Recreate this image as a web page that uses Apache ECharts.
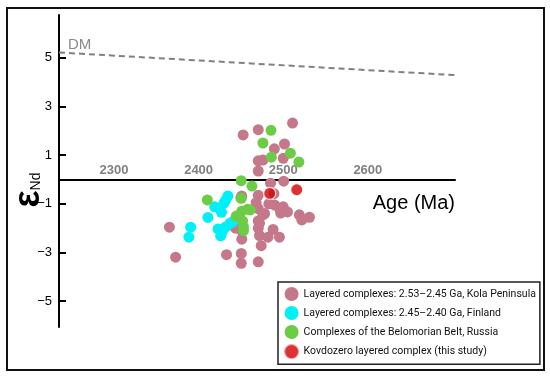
<!DOCTYPE html>
<html><head><meta charset="utf-8">
<script src="https://cdn.jsdelivr.net/npm/echarts@6/dist/echarts.min.js"></script>
<style>html,body{margin:0;padding:0;background:#fff}#c{width:550px;height:376px}</style>
</head><body><div id="c"></div>
<script>
// ---- data (Age in Ma, epsilon Nd) ----
const kola = [
  [2511,2.32],[2452.6,1.83],[2470.5,2.05],[2501.5,1.46],[2489.5,1.26],[2470.5,0.77],[2476,0.8],
  [2500,0.87],[2470.5,0.35],[2485,-0.15],[2500.5,-0.07],[2451,-0.68],[2470.5,-0.65],[2489,-0.58],
  [2470.5,-1.2],[2476,-1.45],[2490,-1.05],[2500,-1.12],[2497,-1.38],[2505,-1.33],[2519,-1.45],
  [2522,-1.66],[2531,-1.55],[2470.5,-1.7],[2470.5,-2.0],[2488,-2.05],[2472,-2.3],[2482,-2.37],
  [2495.5,-2.37],[2474,-2.72],[2470.5,-3.38],[2450.4,-3.44],[2450.4,-3.04],[2433,-3.09],
  [2451,-2.45],[2451,-2.1],[2365.5,-1.96],[2372.8,-3.19],[2450,-0.75],[2443.5,-2.0],
  [2468,-0.95],[2483,-1.0],[2478,-1.4],[2472,-1.8],[2496,-1.2]
];
const finland = [
  [2434.6,-0.68],[2432,-0.85],[2430,-0.97],[2419,-1.12],[2425,-1.2],[2427,-1.35],[2411,-1.56],
  [2390.6,-1.96],[2388.5,-2.37],[2437,-1.8],[2432,-1.95],[2423,-2.03],[2428,-2.15],[2426,-2.32],[2440,-1.75]
];
const belomorian = [
  [2485.5,2.02],[2476,1.50],[2486,0.92],[2508.5,1.08],[2518.5,0.72],[2450.4,-0.05],[2463,-0.27],
  [2410.3,-0.84],[2450.4,-0.77],[2458,-1.22],[2451,-1.3],[2444.5,-1.5],[2452,-1.7],[2453,-1.95],
  [2453,-2.1],[2461,-1.25]
];
const kovdozero = [[2484,-0.57],[2516,-0.42]];
const dmLine = [[2235,5.22],[2703,4.29]];
const xTickLabels = [2300,2400,2500,2600];
const yTickLabels = [-5,-3,-1,1,3,5];
const names = [
  'Layered complexes: 2.53–2.45 Ga, Kola Peninsula',
  'Layered complexes: 2.45–2.40 Ga, Finland',
  'Complexes of the Belomorian Belt, Russia',
  'Kovdozero layered complex (this study)'
];
const colors = ['#c4788a','#00f0f8','#6ccc46','#d20000'];

const chart = echarts.init(document.getElementById('c'), null, {renderer:'canvas'});
const FONT = 'Liberation Sans, Arial, sans-serif';
const LEGFONT = "Roboto, 'Liberation Sans', sans-serif";

const Y_MIN = -6.06, Y_MAX = 6.76, GRID_TOP = 15, GRID_BOTTOM = 49, H = 376;
const plotH = H - GRID_TOP - GRID_BOTTOM;
const zeroOffset = -(plotH * (0 - Y_MIN) / (Y_MAX - Y_MIN)); // move x axis up to y = 0

function dots(name, data, color, extra) {
  return Object.assign({
    type:'scatter', name, data, symbol:'circle', symbolSize:11,
    itemStyle:{color, opacity:1}, emphasis:{disabled:true}
  }, extra || {});
}

chart.setOption({
  animation:false,
  backgroundColor:'#fff',
  grid:{left:59, right:95, top:GRID_TOP, bottom:GRID_BOTTOM, containLabel:false, outerBoundsMode:'none'},
  xAxis:{
    type:'value', min:2235, max:2703, position:'bottom', offset:zeroOffset,
    axisLine:{onZero:false, lineStyle:{color:'#000', width:2}},
    axisTick:{show:false},
    splitLine:{show:false},
    axisLabel:{inside:true, customValues:xTickLabels, margin:3, formatter:v => String(v),
      color:'#808080', fontWeight:'bold', fontSize:13, fontFamily:FONT},
    name:'Age (Ma)', nameLocation:'end', nameGap:0, nameMoveOverlap:false,
    nameTextStyle:{align:'right', verticalAlign:'top', padding:[14,0,0,0],
      color:'#000', fontSize:20, fontFamily:FONT}
  },
  yAxis:{
    type:'value', min:Y_MIN, max:Y_MAX,
    axisLine:{onZero:false, lineStyle:{color:'#000', width:2}},
    axisTick:{inside:true, length:7, customValues:yTickLabels, lineStyle:{color:'#000', width:2}},
    splitLine:{show:false},
    axisLabel:{customValues:yTickLabels, margin:7, color:'#000', fontSize:13, fontFamily:FONT,
      formatter:v => v < 0 ? '\u2212' + Math.abs(v) : String(v)},
    name:'{e|ε}{s|Nd}', nameLocation:'middle', nameRotate:90, nameGap:12, nameMoveOverlap:false,
    nameTextStyle:{padding:[0,38,0,0], rich:{
      e:{fontSize:36, fontWeight:'bold', fontFamily:FONT, color:'#000'},
      s:{fontSize:14, fontFamily:FONT, color:'#000', verticalAlign:'bottom', padding:[0,0,4,0]}
    }}
  },
  legend:{
    orient:'vertical', left:278, top:282,
    data:names.map((n,i)=> i===3 ? {name:n, itemStyle:{borderColor:'#f2a0b0', borderWidth:1.2}} : {name:n}),
    icon:'circle', itemWidth:14, itemHeight:14, itemGap:5,
    padding:[5,4,5,6], borderColor:'#222', borderWidth:1.5, backgroundColor:'#fff',
    textStyle:{fontSize:10.5, fontFamily:LEGFONT, color:'#111'},
    selectedMode:false
  },
  graphic:[{type:'rect', silent:true, z:-10,
    shape:{x:7, y:8, width:537, height:362},
    style:{fill:'none', stroke:'#111', lineWidth:2}}],
  series:[
    {type:'line', name:'DM', silent:true,
      data:dmLine.map((p,i)=> i===0 ? {value:p, label:{show:true, formatter:'DM', position:'right', distance:0,
        offset:[9,-8], color:'#8a8a8a', fontSize:15, fontFamily:FONT}} : {value:p}),
      symbol:'circle', symbolSize:0, showSymbol:true,
      lineStyle:{color:'#808080', width:2, type:[6,4]}, itemStyle:{color:'#808080'}},
    dots(names[0], kola, colors[0]),
    dots(names[1], finland, colors[1]),
    dots(names[2], belomorian, colors[2]),
    dots(names[3], kovdozero, colors[3], {symbolSize:12,
      itemStyle:{color:colors[3], borderColor:'#fff', borderWidth:1.2}})
  ]
});
</script></body></html>
